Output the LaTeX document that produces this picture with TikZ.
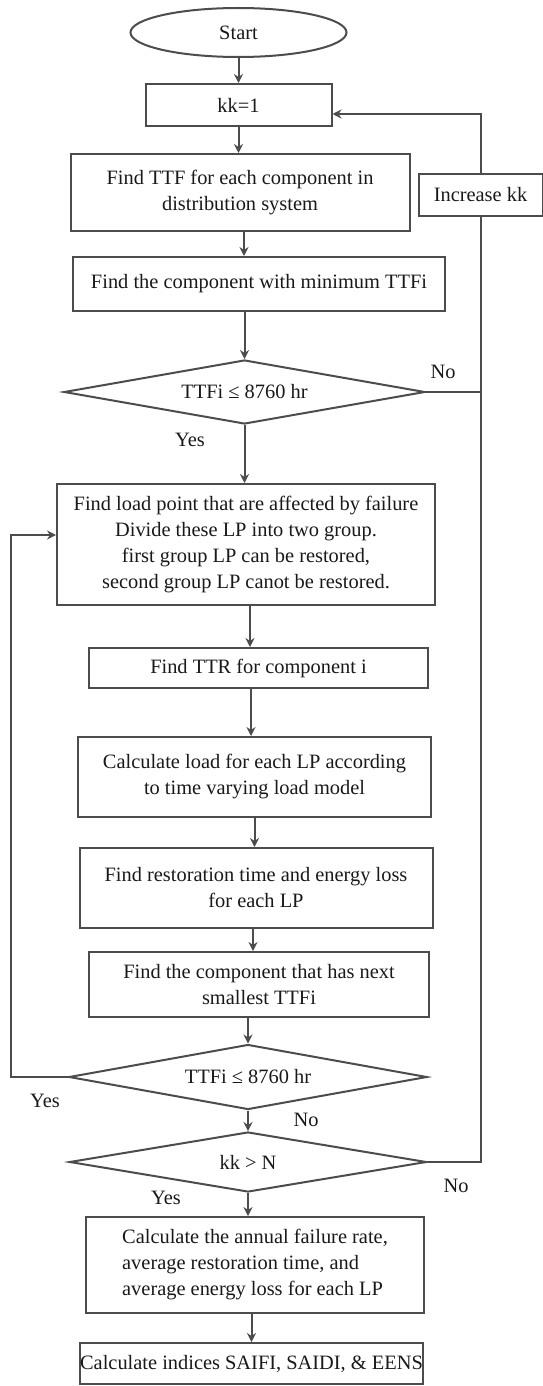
\documentclass[tikz,border=0pt]{standalone}
\usepackage{fontspec}
\setmainfont{Liberation Serif}
\usetikzlibrary{shapes.geometric,arrows.meta}
\begin{document}
\begin{tikzpicture}[x=0.5pt,y=-0.5pt,
  every node/.style={font=\fontsize{10.2}{13}\selectfont, text=black!90},
  box/.style={draw=black!70, line width=1pt, rectangle, align=center, inner sep=0pt},
  startbox/.style={draw=black!70, line width=1pt, ellipse, inner sep=0pt},
  decision/.style={draw=black!70, line width=1pt, diamond, aspect=5.6, inner sep=0pt},
  line/.style={draw=black!70, line width=1pt},
  arr/.style={line, -{Stealth[length=4.5pt,width=4.5pt]}},
  lbl/.style={inner sep=0pt}
]
\useasboundingbox (0,0) rectangle (542,1386);
\node[startbox, minimum width=108pt, minimum height=24.5pt] (start) at (238.5,32.5) {Start};
\node[box, minimum width=93pt, minimum height=21pt] (kk) at (238.5,105) {kk=1};
\node[box, minimum width=169.5pt, minimum height=38.5pt] (ttf) at (240,192.5) {Find TTF for each component in\\distribution system};
\node[box, minimum width=62pt, minimum height=21pt] (inc) at (480.5,195) {Increase kk};
\node[box, minimum width=186pt, minimum height=27pt] (comp) at (259,284) {Find the component with minimum TTFi};
\node[decision, minimum width=180.5pt, minimum height=32pt] (d1) at (244.5,392) {TTFi ≤ 8760 hr};
\node[box, minimum width=189pt, minimum height=60.5pt] (load) at (246,544.5) {Find load point that are affected by failure\\Divide these LP into two group.\\first group LP can be restored,\\second group LP canot be restored.};
\node[box, minimum width=169.5pt, minimum height=20pt] (ttr) at (258.5,668) {Find TTR for component i};
\node[box, minimum width=176.5pt, minimum height=40pt] (calc) at (254.5,777) {Calculate load for each LP according\\to time varying load model};
\node[box, minimum width=176.5pt, minimum height=40pt] (rest) at (256,888) {Find restoration time and energy loss\\for each LP};
\node[box, minimum width=170pt, minimum height=32.5pt] (next) at (259,984.5) {Find the component that has next\\smallest TTFi};
\node[decision, minimum width=179pt, minimum height=32.5pt] (d2) at (248,1077) {TTFi ≤ 8760 hr};
\node[decision, minimum width=178.5pt, minimum height=30pt] (d3) at (248,1162) {kk > N};
\node[box, minimum width=169pt, minimum height=48pt, align=left] (annual) at (255,1265) {Calculate the annual failure rate,\\average restoration time, and\\average energy loss for each LP};
\node[box, minimum width=169.5pt, minimum height=20.5pt] (final) at (251.5,1363.5) {Calculate indices SAIFI, SAIDI, \& EENS};

\draw[arr] (start) -- (kk);
\draw[arr] (kk.south) -- (kk.south |- ttf.north);
\draw[arr] ([xshift=2pt]ttf.south) -- ([xshift=2pt]ttf.south |- comp.north);
\draw[arr] (d1.north |- comp.south) -- (d1.north);
\draw[arr] (d1.south) -- (d1.south |- load.north);
\draw[arr] ([xshift=2pt]load.south) -- ([xshift=2pt]load.south |- ttr.north);
\draw[arr] ([xshift=-3.75pt]ttr.south) -- ([xshift=-3.75pt]ttr.south |- calc.north);
\draw[arr] (calc.south) -- (calc.south |- rest.north);
\draw[arr] ([xshift=-1.5pt]rest.south) -- ([xshift=-1.5pt]rest.south |- next.north);
\draw[arr] (d2.north |- next.south) -- (d2.north);
\draw[arr] (d2.south) -- (d3.north);
\draw[arr] (d3.south) -- (d3.south |- annual.north);
\draw[arr] (final.north |- annual.south) -- (final.north);

\coordinate (lx) at (11,0);
\draw[line] (d1.east) -- (d1.east -| inc.south);
\draw[line] (d3.east) -| (inc.south);
\draw[arr] (inc.north) |- ([yshift=-4.5pt]kk.east);
\draw[arr] (d2.west) -- (d2.west -| lx) |- ([yshift=4.75pt]load.west);

\node[lbl] (no1) at (443,372) {No};
\node[lbl] (yes1) at (190,440) {Yes};
\node[lbl] (yes2) at (45,1101) {Yes};
\node[lbl] (no2) at (306,1120) {No};
\node[lbl] (no3) at (456,1186) {No};
\node[lbl] (yes3) at (166,1198) {Yes};
\end{tikzpicture}
\end{document}
